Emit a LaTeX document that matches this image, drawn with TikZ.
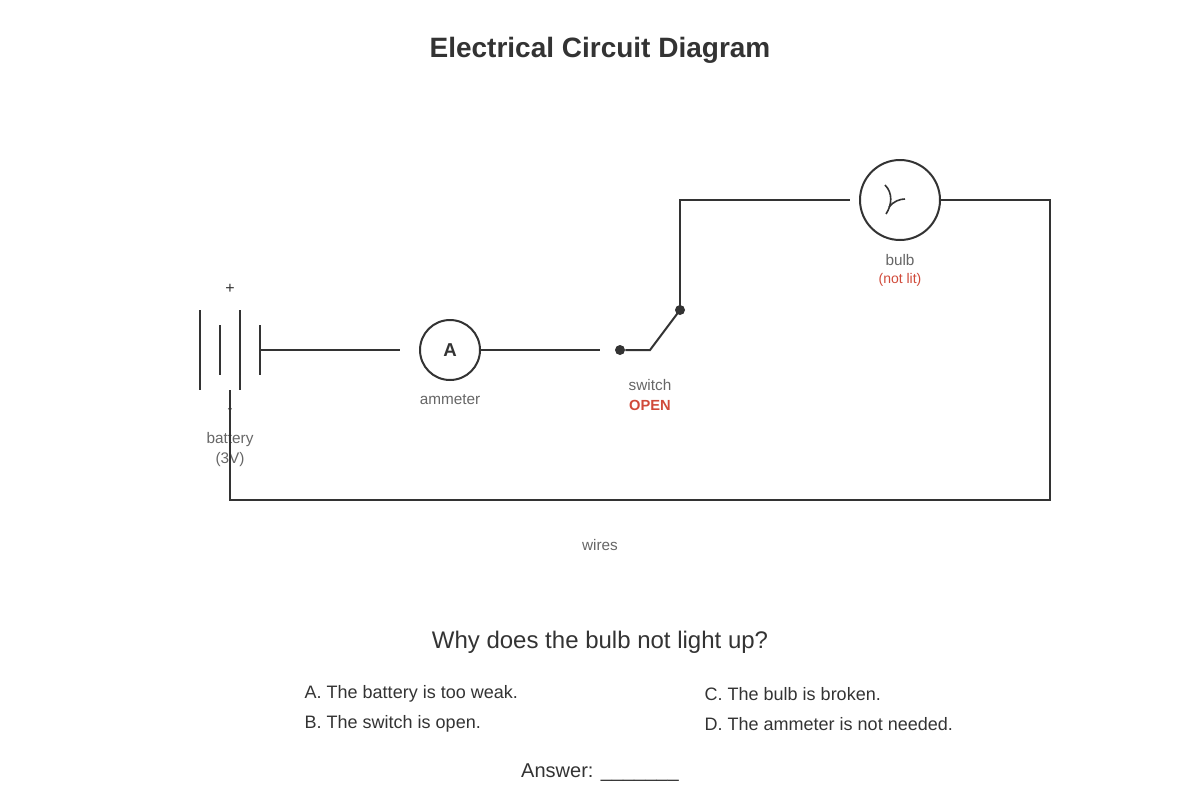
\documentclass[tikz,border=0pt]{standalone}
\usepackage{fontspec}
\setmainfont{Liberation Sans}
\definecolor{ink}{HTML}{333333}
\definecolor{lbl}{HTML}{666666}
\definecolor{warn}{HTML}{D04A3A}
\tikzset{
  wire/.style={ink, line width=1.5pt},
  meter/.style={circle, draw=ink, line width=1.5pt, inner sep=0pt},
  tag/.style={lbl, font=\fontsize{11.5}{13}\selectfont},
}
\begin{document}
\begin{tikzpicture}[x=0.75pt, y=-0.75pt]
    \useasboundingbox (0,0) rectangle (1200,800);

    \node[ink, font=\fontsize{21}{24}\selectfont\bfseries] (title) at (600,50) {Electrical Circuit Diagram};

    % battery
    \draw[wire] (200,310) -- (200,390);
    \draw[wire] (220,325) -- (220,375);
    \draw[wire] (240,310) -- (240,390);
    \draw[wire] (260,325) -- (260,375);
    \coordinate (bplus) at (260,350);
    \coordinate (bminus) at (230,390);
    \node[ink, font=\fontsize{12}{14}\selectfont] (plus) at (230,289) {+};
    \node[lbl, font=\fontsize{12}{14}\selectfont] (minus) at (230,411) {-};
    \node[tag] (batlbl) at (230,440) {battery};
    \node[tag] (batval) at (230,460) {(3V)};

    % ammeter
    \node[meter, minimum size=45pt, font=\fontsize{14}{16}\selectfont\bfseries, text=ink] (amm) at (450,350) {A};
    \node[tag] (ammlbl) at (450,400) {ammeter};
    \coordinate (aleft) at (400,350);
    \coordinate (aright) at (600,350);

    % switch
    \node[circle, fill=ink, inner sep=0pt, minimum size=7.5pt] (sa) at (620,350) {};
    \node[circle, fill=ink, inner sep=0pt, minimum size=7.5pt] (sb) at (680,310) {};
    \coordinate (pivot) at (650,350);
    \node[tag] (swlbl) at (650,385) {switch};
    \node[warn, font=\fontsize{11}{13}\selectfont\bfseries] (swstate) at (650,405) {OPEN};

    % bulb
    \node[meter, minimum size=60pt] (bulb) at (900,200) {};
    \draw[ink, line width=1.2pt] (885,185) .. controls (893,193) and (892,205) .. (886,214);
    \draw[ink, line width=1.2pt] (889,207) .. controls (894,201) and (900,199) .. (905,199);
    \node[tag] (bulblbl) at (900,260) {bulb};
    \node[warn, font=\fontsize{10.5}{12}\selectfont] (bulbstate) at (900,280) {(not lit)};

    % wires
    \coordinate (tl) at (680,200);
    \coordinate (tr) at (1050,200);
    \coordinate (br) at (1050,500);
    \coordinate (bl) at (230,500);
    \draw[wire] (bplus) -- (aleft);
    \draw[wire] (amm.east) -- (aright);
    \draw[wire] (sa) -- (pivot) -- (sb.center);
    \draw[wire] (sb.center) -- (tl) -- (850,200);
    \draw[wire] (bulb.east) -- (tr) -- (br) -- (bl) -- (bminus);
    \node[tag] (wirelbl) at (600,545) {wires};

    % question
    \node[ink, font=\fontsize{18}{21}\selectfont] (question) at (600,642) {Why does the bulb not light up?};
    \node[ink, anchor=west, font=\fontsize{13.5}{16}\selectfont] (optA) at (300,694) {A. The battery is too weak.};
    \node[ink, anchor=west, font=\fontsize{13.5}{16}\selectfont] (optB) at (300,724) {B. The switch is open.};
    \node[ink, anchor=west, font=\fontsize{13.5}{16}\selectfont] (optC) at (700,694) {C. The bulb is broken.};
    \node[ink, anchor=west, font=\fontsize{13.5}{16}\selectfont] (optD) at (700,724) {D. The ammeter is not needed.};
    \node[ink, font=\fontsize{15}{18}\selectfont] (answer) at (600,773) {Answer: \_\_\_\_\_\_\_};
\end{tikzpicture}
\end{document}
